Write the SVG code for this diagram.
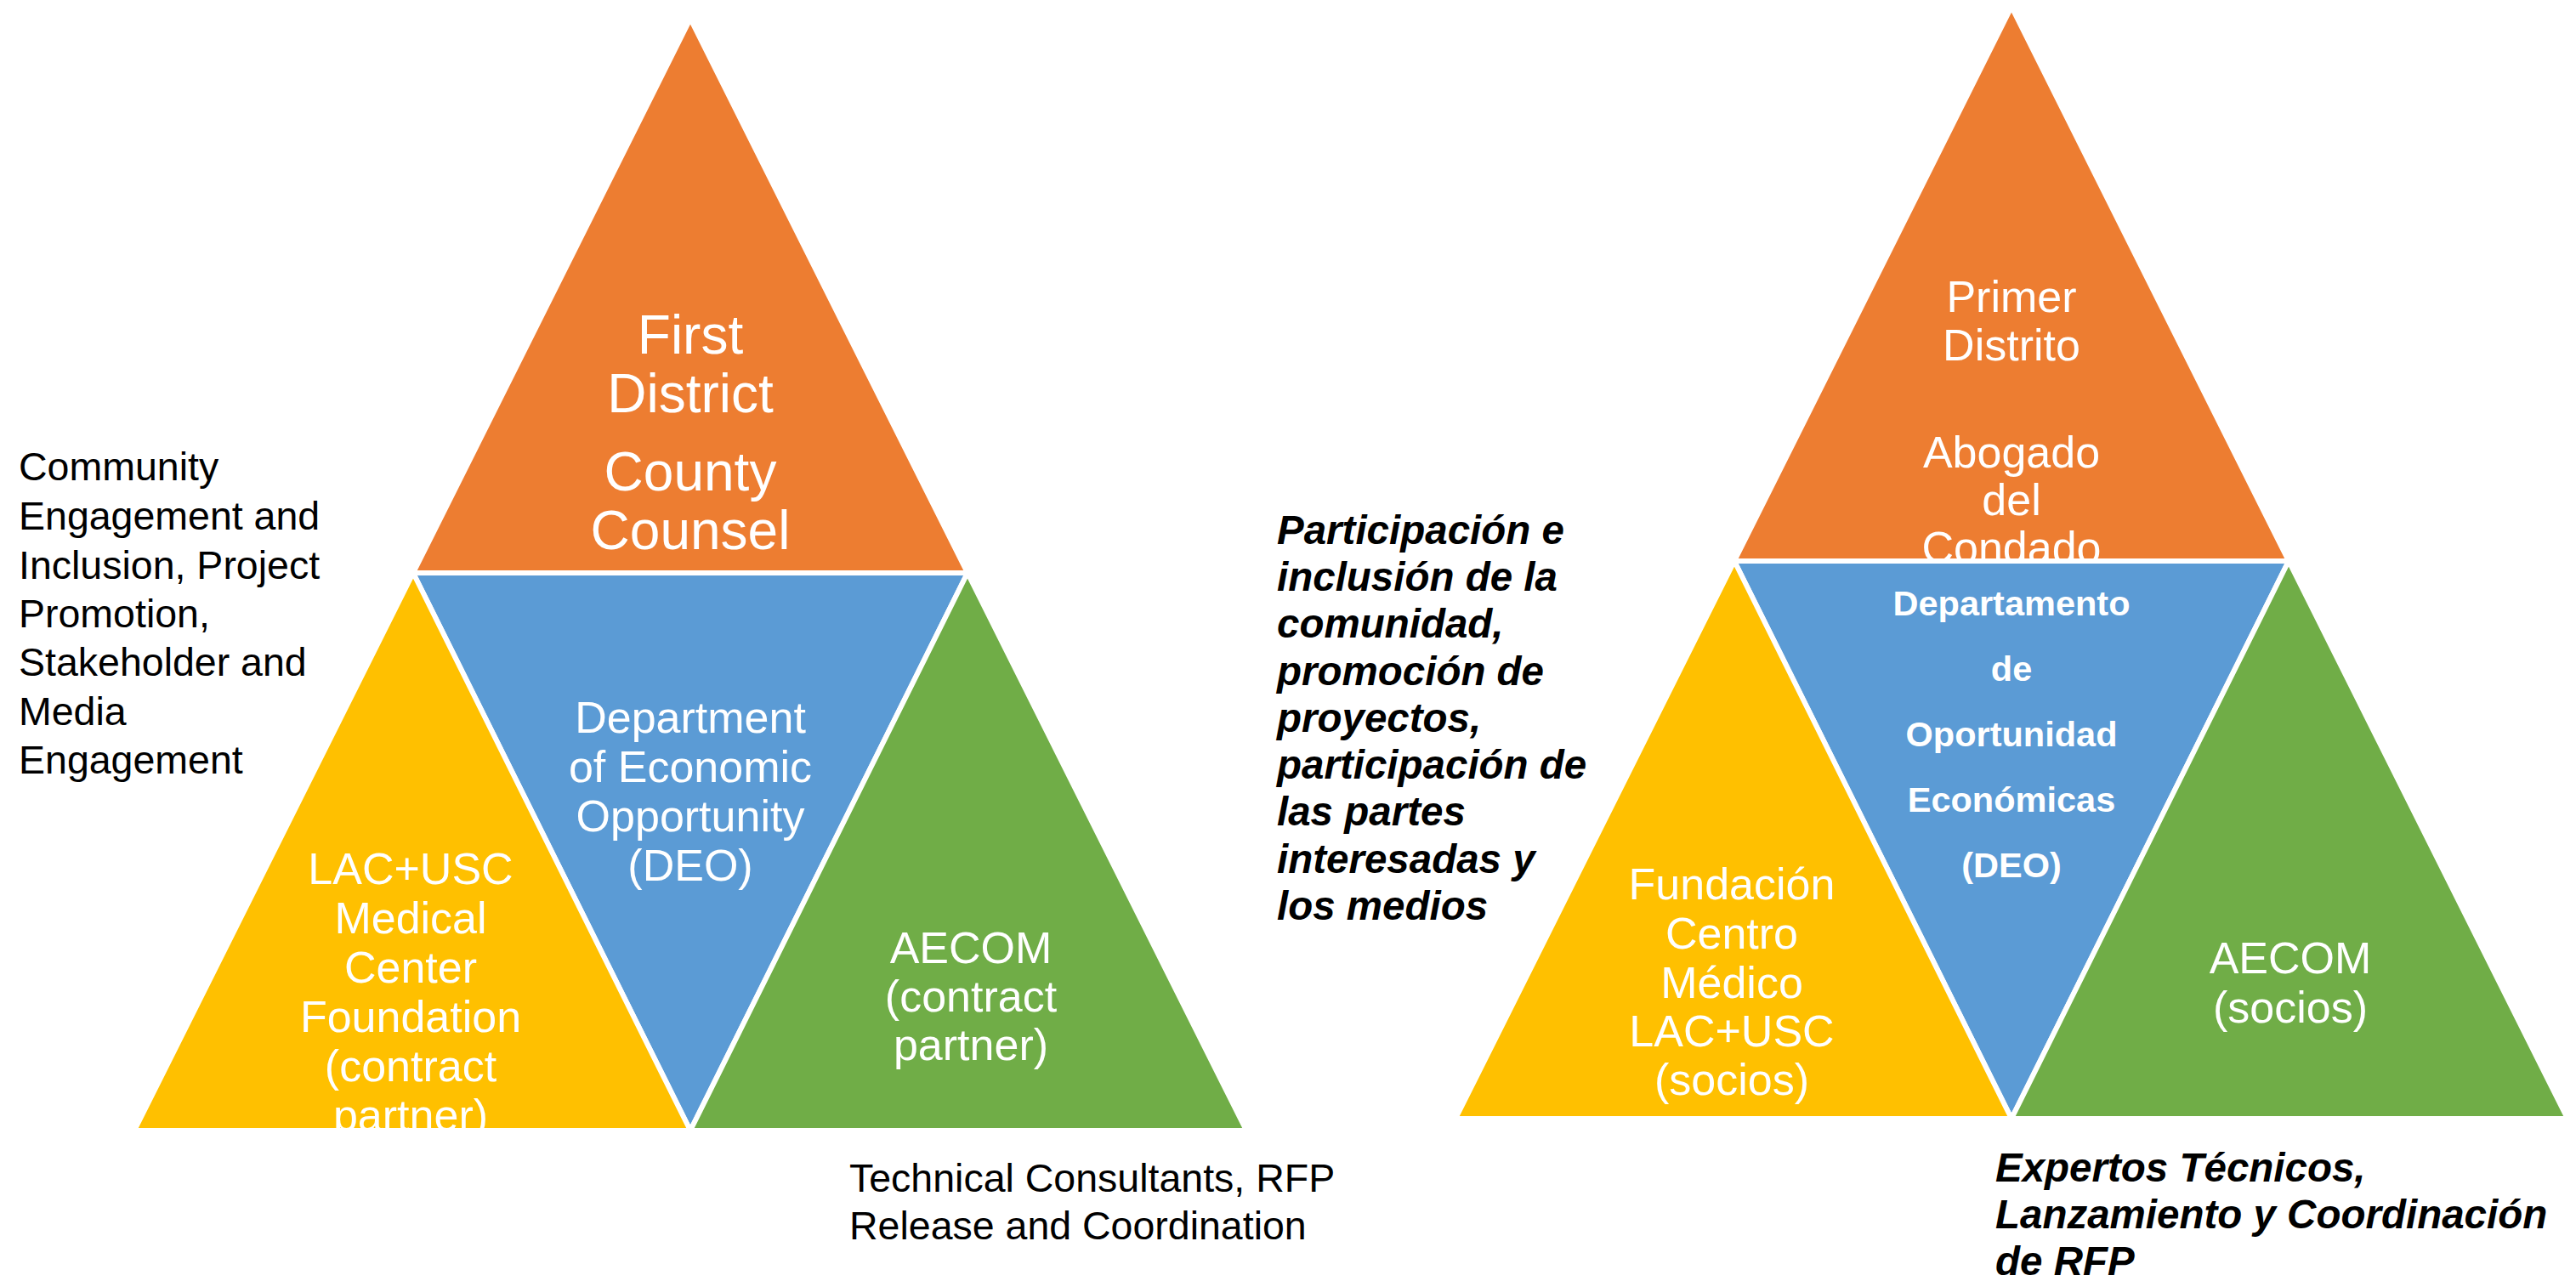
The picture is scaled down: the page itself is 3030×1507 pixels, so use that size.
<svg xmlns="http://www.w3.org/2000/svg" width="3030" height="1507" viewBox="0 0 3030 1507">
<style>
.tri{stroke:#fff;stroke-width:6;stroke-linejoin:miter}
.o{fill:#ED7D31}.b{fill:#5B9BD5}.y{fill:#FFC000}.g{fill:#70AD47}
.w{fill:#fff;font-family:"Liberation Sans",Arial,sans-serif;text-anchor:middle}
.k{fill:#000;font-family:"Liberation Sans",Arial,sans-serif;font-size:46.5px}
.ki{fill:#000;font-family:"Liberation Sans",Arial,sans-serif;font-size:47.5px;font-weight:bold;font-style:italic}
</style>
<defs>
<clipPath id="cL1"><polygon points="812,22 1138,674 486,674"/></clipPath>
<clipPath id="cL3"><polygon points="486,674 812,1330 158,1330"/></clipPath>
<clipPath id="cR1"><polygon points="2366,8 2692,660 2040,660"/></clipPath>
<clipPath id="cR3"><polygon points="2040,660 2366,1316 1712,1316"/></clipPath>
</defs>
<rect width="3030" height="1507" fill="#fff"/>

<g id="left-top">
<polygon class="tri o" points="812,22 1138,674 486,674"/>
<g clip-path="url(#cL1)" class="w" font-size="64">
<text x="812" y="416">First</text>
<text x="812" y="485">District</text>
<text x="812" y="577">County</text>
<text x="812" y="646">Counsel</text>
</g>
</g>
<g id="left-center">
<polygon class="tri b" points="486,674 1138,674 812,1330"/>
<g class="w" font-size="52">
<text x="812" y="862">Department</text>
<text x="812" y="920">of Economic</text>
<text x="812" y="978">Opportunity</text>
<text x="812" y="1036">(DEO)</text>
</g>
</g>
<g id="left-left">
<polygon class="tri y" points="486,674 812,1330 158,1330"/>
<g clip-path="url(#cL3)" class="w" font-size="52">
<text x="483" y="1040">LAC+USC</text>
<text x="483" y="1098">Medical</text>
<text x="483" y="1156">Center</text>
<text x="483" y="1214">Foundation</text>
<text x="483" y="1272">(contract</text>
<text x="483" y="1330">partner)</text>
</g>
</g>
<g id="left-right">
<polygon class="tri g" points="1138,674 1466,1330 812,1330"/>
<g class="w" font-size="52">
<text x="1142" y="1133">AECOM</text>
<text x="1142" y="1190">(contract</text>
<text x="1142" y="1247">partner)</text>
</g>
</g>

<g id="right-top">
<polygon class="tri o" points="2366,8 2692,660 2040,660"/>
<g clip-path="url(#cR1)" class="w" font-size="52">
<text x="2366" y="367">Primer</text>
<text x="2366" y="424">Distrito</text>
<text x="2366" y="550">Abogado</text>
<text x="2366" y="606">del</text>
<text x="2366" y="662">Condado</text>
</g>
</g>
<g id="right-center">
<polygon class="tri b" points="2040,660 2692,660 2366,1316"/>
<g class="w" font-size="41.5" font-weight="bold">
<text x="2366" y="724">Departamento</text>
<text x="2366" y="801">de</text>
<text x="2366" y="878">Oportunidad</text>
<text x="2366" y="955">Económicas</text>
<text x="2366" y="1032">(DEO)</text>
</g>
</g>
<g id="right-left">
<polygon class="tri y" points="2040,660 2366,1316 1712,1316"/>
<g clip-path="url(#cR3)" class="w" font-size="52">
<text x="2037" y="1058">Fundación</text>
<text x="2037" y="1116">Centro</text>
<text x="2037" y="1174">Médico</text>
<text x="2037" y="1231">LAC+USC</text>
<text x="2037" y="1288">(socios)</text>
</g>
</g>
<g id="right-right">
<polygon class="tri g" points="2692,660 3020,1316 2366,1316"/>
<g class="w" font-size="52">
<text x="2694" y="1145">AECOM</text>
<text x="2694" y="1203">(socios)</text>
</g>
</g>

<g id="note-community" class="k">
<text x="22" y="565">Community</text>
<text x="22" y="623">Engagement and</text>
<text x="22" y="681">Inclusion, Project</text>
<text x="22" y="738">Promotion,</text>
<text x="22" y="795">Stakeholder and</text>
<text x="22" y="853">Media</text>
<text x="22" y="910">Engagement</text>
</g>
<g id="note-technical" class="k">
<text x="999" y="1402">Technical Consultants, RFP</text>
<text x="999" y="1458">Release and Coordination</text>
</g>
<g id="note-participacion" class="ki">
<text x="1502" y="640">Participación e</text>
<text x="1502" y="695">inclusión de la</text>
<text x="1502" y="750">comunidad,</text>
<text x="1502" y="806">promoción de</text>
<text x="1502" y="861">proyectos,</text>
<text x="1502" y="916">participación de</text>
<text x="1502" y="971">las partes</text>
<text x="1502" y="1027">interesadas y</text>
<text x="1502" y="1082">los medios</text>
</g>
<g id="note-expertos" class="ki">
<text x="2347" y="1390">Expertos Técnicos,</text>
<text x="2347" y="1445">Lanzamiento y Coordinación</text>
<text x="2347" y="1500">de RFP</text>
</g>
<g id="connectors"></g>
</svg>
